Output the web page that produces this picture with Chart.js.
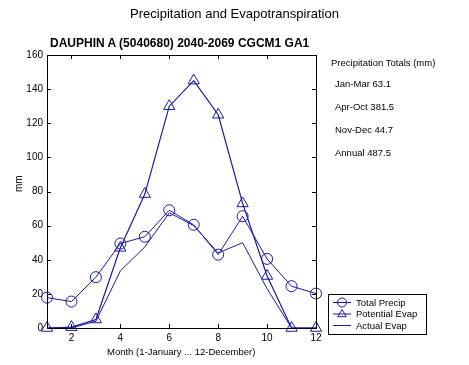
<!DOCTYPE html>
<html lang="en">
<head>
  <meta charset="UTF-8" />
  <title>Precipitation and Evapotranspiration</title>
  <script src="https://cdn.jsdelivr.net/npm/chart.js@4/dist/chart.umd.min.js"></script>
  <style>
    body { margin: 0; background: #fff; font-family: "Liberation Sans", Arial, sans-serif; }
    #wrap { position: relative; width: 469px; height: 365px; }
    #chart { position: absolute; left: 0; top: 0; }
    .txt { position: absolute; white-space: nowrap; color: #000; line-height: 1; }
  </style>
</head>
<body>
  <div id="wrap">
    <canvas id="chart" width="469" height="365"></canvas>
    <div class="txt" style="left:0;width:469px;text-align:center;top:7px;font-size:13px;">Precipitation and Evapotranspiration</div>
    <div class="txt" style="left:50px;top:37px;font-size:12px;font-weight:bold;">DAUPHIN A (5040680) 2040-2069 CGCM1 GA1</div>
    <div class="txt" style="left:14px;top:192px;font-size:10px;transform:rotate(-90deg);transform-origin:0 0;">mm</div>
    <div class="txt" style="left:107px;top:347px;font-size:9.5px;">Month (1-January ... 12-December)</div>
    <div id="totals"></div>
  </div>

  <script>
    // data (mm per month)
    const months = [1, 2, 3, 4, 5, 6, 7, 8, 9, 10, 11, 12];
    const totalPrecip = [17.8, 15.5, 29.8, 49.5, 53.5, 69, 60.5, 43, 65.5, 40.5, 24.5, 20.2];
    const potentialEvap = [0, 0.5, 5, 47, 78.5, 130, 145, 125, 73, 30.5, 0, 0];
    const actualEvap = [0, 0, 4, 33.5, 47.5, 67.5, 60, 44, 50, 23, 0, 0];
    const xTicks = [2, 4, 6, 8, 10, 12];
    const totalsTitle = "Precipitation Totals (mm)";
    const totalsLabels = ["Jan-Mar 63.1", "Apr-Oct 381.5", "Nov-Dec 44.7", "Annual 487.5"];

    const blue = "#1a1a9c";
    const font = '"Liberation Sans", Arial, sans-serif';

    // right hand text block
    const totals = document.getElementById("totals");
    totals.innerHTML =
      `<div class="txt" style="left:331px;top:58px;font-size:9.5px;">${totalsTitle}</div>` +
      totalsLabels.map((t, i) =>
        `<div class="txt" style="left:335px;top:${79 + i * 23}px;font-size:9.5px;">${t}</div>`
      ).join("");

    function pts(arr) {
      return arr.map((v, i) => ({ x: months[i], y: v }));
    }

    // draw a marker the way the legend needs it
    function marker(ctx, style, x, y, r) {
      ctx.beginPath();
      if (style === "circle") {
        ctx.arc(x, y, r, 0, Math.PI * 2);
      } else if (style === "triangle") {
        ctx.moveTo(x, y - r);
        ctx.lineTo(x + r * 0.95, y + r * 0.6);
        ctx.lineTo(x - r * 0.95, y + r * 0.6);
        ctx.closePath();
      }
      ctx.stroke();
    }

    // box around the plot with inward ticks + legend box
    const framePlugin = {
      id: "frame",
      afterDraw(chart) {
        const ctx = chart.ctx;
        const a = chart.chartArea;
        const xs = chart.scales.x, ys = chart.scales.y;
        ctx.save();
        ctx.strokeStyle = "#000";
        ctx.lineWidth = 1;
        ctx.strokeRect(Math.round(a.left) + 0.5, Math.round(a.top) + 0.5,
          Math.round(a.right - a.left), Math.round(a.bottom - a.top));
        ctx.beginPath();
        xTicks.forEach(v => {
          const px = Math.round(xs.getPixelForValue(v)) + 0.5;
          ctx.moveTo(px, a.top); ctx.lineTo(px, a.top + 4);
          ctx.moveTo(px, a.bottom); ctx.lineTo(px, a.bottom - 4);
        });
        ys.ticks.forEach(t => {
          const py = Math.round(ys.getPixelForValue(t.value)) + 0.5;
          ctx.moveTo(a.left, py); ctx.lineTo(a.left + 4, py);
          ctx.moveTo(a.right, py); ctx.lineTo(a.right - 4, py);
        });
        ctx.stroke();

        // legend
        const lx = 328, ly = 294, lw = 98, lh = 40;
        ctx.fillStyle = "#fff";
        ctx.fillRect(lx, ly, lw, lh);
        ctx.strokeRect(lx + 0.5, ly + 0.5, lw, lh);
        ctx.font = "9.5px " + font;
        ctx.textBaseline = "middle";
        chart.data.datasets.forEach((ds, i) => {
          const y = ly + 8.5 + i * 11.5;
          ctx.strokeStyle = blue;
          ctx.lineWidth = 1;
          ctx.beginPath();
          ctx.moveTo(lx + 5, y); ctx.lineTo(lx + 23, y);
          ctx.stroke();
          if (ds.pointStyle && ds.pointRadius > 0) marker(ctx, ds.pointStyle, lx + 14, y, 4.5);
          ctx.fillStyle = "#000";
          ctx.fillText(ds.label, lx + 28, y + 0.5);
        });
        ctx.restore();
      }
    };

    new Chart(document.getElementById("chart"), {
      type: "line",
      data: {
        datasets: [
          {
            label: "Total Precip",
            data: pts(totalPrecip),
            borderColor: blue, borderWidth: 1,
            pointStyle: "circle", pointRadius: 5.5,
            pointBorderColor: blue, pointBackgroundColor: "rgba(0,0,0,0)", pointBorderWidth: 1,
            clip: false
          },
          {
            label: "Potential Evap",
            data: pts(potentialEvap),
            borderColor: blue, borderWidth: 1.2,
            pointStyle: "triangle", pointRadius: 6.5,
            pointBorderColor: blue, pointBackgroundColor: "rgba(0,0,0,0)", pointBorderWidth: 1,
            clip: false
          },
          {
            label: "Actual Evap",
            data: pts(actualEvap),
            borderColor: blue, borderWidth: 1,
            pointRadius: 0,
            clip: false
          }
        ]
      },
      options: {
        responsive: false,
        animation: false,
        layout: { padding: { left: 0, top: 55, right: 153, bottom: 0 } },
        plugins: { legend: { display: false }, title: { display: false }, tooltip: { enabled: false } },
        elements: { line: { tension: 0 } },
        scales: {
          x: {
            type: "linear", min: 1, max: 12,
            afterBuildTicks(scale) { scale.ticks = xTicks.map(v => ({ value: v })); },
            afterFit(scale) { scale.height = 37; },
            grid: { display: false, drawTicks: false },
            border: { display: false },
            ticks: { color: "#000", font: { size: 10, family: font }, padding: 4 }
          },
          y: {
            min: 0, max: 160,
            afterFit(scale) { scale.width = 47; },
            grid: { display: false, drawTicks: false },
            border: { display: false },
            ticks: { stepSize: 20, color: "#000", font: { size: 10, family: font }, padding: 4 }
          }
        }
      },
      plugins: [framePlugin]
    });
  </script>
</body>
</html>
